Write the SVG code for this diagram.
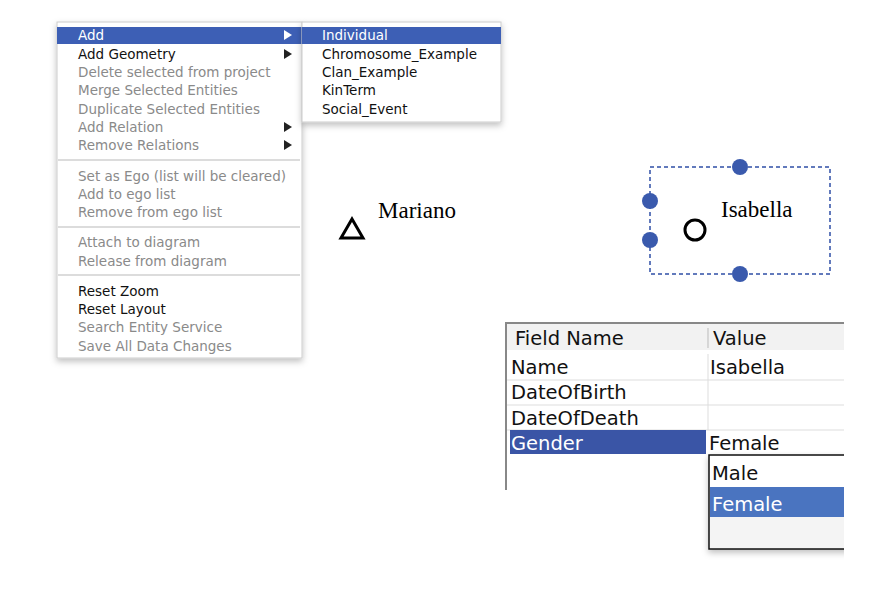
<svg xmlns="http://www.w3.org/2000/svg" width="874" height="608" viewBox="0 0 874 608">
<defs>
<filter id="sh" x="-10%" y="-10%" width="130%" height="130%"><feDropShadow dx="0" dy="3" stdDeviation="3" flood-color="#000" flood-opacity="0.25"/></filter>
<style>
.m{font-family:"Lucida Grande","DejaVu Sans",sans-serif;font-size:13.5px;fill:#111}
.t{font-family:"DejaVu Sans",sans-serif;font-size:19.5px;fill:#111}
.m.d{fill:#8a8a8a}
.m.w,.t.w{fill:#fff}
.s{font-family:"Liberation Serif",serif;font-size:23px;fill:#000}
.sep{stroke:#dcdcdc;stroke-width:2}
.hd{fill:#3a5aad}
.tl{stroke:#ddd;stroke-width:1}
</style>
</defs>
<rect width="874" height="608" fill="#fff"/>
<g id="menu">
<rect x="57" y="22" width="245" height="336" fill="#fff" stroke="#ccc" filter="url(#sh)"/>
<rect x="57" y="27" width="245" height="17" fill="#3d5fb5"/>
<text class="m w" x="78" y="40">Add</text>
<text class="m" x="78" y="59">Add Geometry</text>
<text class="m d" x="78" y="77">Delete selected from project</text>
<text class="m d" x="78" y="95">Merge Selected Entities</text>
<text class="m d" x="78" y="114">Duplicate Selected Entities</text>
<text class="m d" x="78" y="132">Add Relation</text>
<text class="m d" x="78" y="150">Remove Relations</text>
<line class="sep" x1="58" y1="160" x2="300" y2="160"/>
<text class="m d" x="78" y="181">Set as Ego (list will be cleared)</text>
<text class="m d" x="78" y="199">Add to ego list</text>
<text class="m d" x="78" y="217">Remove from ego list</text>
<line class="sep" x1="58" y1="227" x2="300" y2="227"/>
<text class="m d" x="78" y="247">Attach to diagram</text>
<text class="m d" x="78" y="266">Release from diagram</text>
<line class="sep" x1="58" y1="275" x2="300" y2="275"/>
<text class="m" x="78" y="296">Reset Zoom</text>
<text class="m" x="78" y="314">Reset Layout</text>
<text class="m d" x="78" y="332">Search Entity Service</text>
<text class="m d" x="78" y="351">Save All Data Changes</text>
<path d="M284 30l8 5-8 5z" fill="#fff"/>
<path d="M284 49l8 5-8 5z" fill="#222"/>
<path d="M284 122l8 5-8 5z" fill="#222"/>
<path d="M284 140l8 5-8 5z" fill="#222"/>
</g>
<g id="submenu">
<rect x="302" y="22" width="199" height="100" fill="#fff" stroke="#ccc" filter="url(#sh)"/>
<rect x="302" y="27" width="199" height="17" fill="#3d5fb5"/>
<text class="m w" x="322" y="40">Individual</text>
<text class="m" x="322" y="59">Chromosome_Example</text>
<text class="m" x="322" y="77">Clan_Example</text>
<text class="m" x="322" y="95">KinTerm</text>
<text class="m" x="322" y="114">Social_Event</text>
</g>
<g id="mariano">
<path d="M352 219l11 19h-22z" fill="none" stroke="#000" stroke-width="3"/>
<text class="s" x="378" y="218">Mariano</text>
</g>
<g id="isabella">
<rect x="650" y="167" width="180" height="107" fill="none" stroke="#2f4fa6" stroke-width="1.5" stroke-dasharray="4,3"/>
<circle cx="740" cy="167" r="8" class="hd"/>
<circle cx="650" cy="201" r="8" class="hd"/>
<circle cx="650" cy="240" r="8" class="hd"/>
<circle cx="740" cy="274" r="8" class="hd"/>
<circle cx="695" cy="230" r="10" fill="none" stroke="#000" stroke-width="3"/>
<text class="s" x="721" y="217">Isabella</text>
</g>
<g id="table">
<rect x="507" y="324" width="337" height="26" fill="#f2f2f2"/>
<line x1="506" y1="323" x2="844" y2="323" stroke="#888" stroke-width="2"/>
<line x1="506" y1="322" x2="506" y2="490" stroke="#888" stroke-width="2"/>
<line x1="708" y1="328" x2="708" y2="348" stroke="#bbb"/>
<line x1="708" y1="354" x2="708" y2="430" class="tl"/>
<line class="tl" x1="507" y1="380" x2="844" y2="380"/>
<line class="tl" x1="507" y1="405" x2="844" y2="405"/>
<line class="tl" x1="507" y1="430" x2="844" y2="430"/>
<rect x="510" y="430" width="196" height="24" fill="#3a55a6"/>
<text class="t" x="515" y="345">Field Name</text>
<text class="t" x="713" y="345">Value</text>
<text class="t" x="511" y="374">Name</text>
<text class="t" x="710" y="374">Isabella</text>
<text class="t" x="511" y="399">DateOfBirth</text>
<text class="t" x="511" y="425">DateOfDeath</text>
<text class="t w" x="511" y="450">Gender</text>
<text class="t" x="709" y="450">Female</text>
</g>
<g id="dropdown">
<rect x="709" y="455" width="140" height="94" fill="#f4f4f4" stroke="#111" stroke-width="1.5" filter="url(#sh)"/>
<rect x="710" y="456" width="139" height="31" fill="#fff"/>
<rect x="710" y="487" width="139" height="30" fill="#4a74c0"/>
<text class="t" x="712" y="480">Male</text>
<text class="t w" x="712" y="511">Female</text>
<rect x="844" y="300" width="30" height="308" fill="#fff"/>
</g>
</svg>
